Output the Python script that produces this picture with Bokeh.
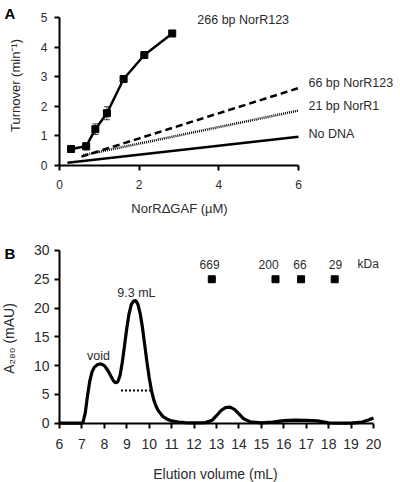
import math
from bokeh.plotting import figure
from bokeh.layouts import column
from bokeh.models import FixedTicker, Whisker, ColumnDataSource, TeeHead
from bokeh.core.properties import value
from bokeh.embed import file_html
from bokeh.resources import INLINE

FONT = "Liberation Sans"
TXT = "#2b2b2b"

# ---------------- Panel A data ----------------
conc_266 = [0.29, 0.67, 0.90, 1.19, 1.61, 2.13, 2.83]
turn_266 = [0.56, 0.65, 1.23, 1.77, 2.93, 3.74, 4.47]
err_266 = [0.0, 0.12, 0.18, 0.22, 0.10, 0.0, 0.0]
conc_66 = [0.55, 6.0]
turn_66 = [0.30, 2.62]
conc_21 = [0.60, 6.0]
turn_21 = [0.35, 1.86]
conc_none = [0.20, 6.0]
turn_none = [0.09, 0.97]
series_labels = ["266 bp NorR123", "66 bp NorR123", "21 bp NorR1", "No DNA"]
label_x = [3.46, 6.25, 6.25, 6.25]
label_y = [4.94, 2.81, 2.0, 1.08]
a_xticks = [0, 2, 4, 6]
a_yticks = [0, 1, 2, 3, 4, 5]

# ---------------- Panel B data ----------------
elution_ml = [6.0, 7.0, 7.05, 7.15, 7.25, 7.35, 7.45, 7.55, 7.7, 7.85, 8.0, 8.15,
              8.3, 8.4, 8.5, 8.6, 8.7, 8.8, 8.9, 9.0, 9.1, 9.2, 9.3, 9.4, 9.5,
              9.6, 9.7, 9.8, 9.9, 10.0, 10.1, 10.2, 10.3, 10.4, 10.6, 10.8, 11.0,
              11.3, 11.6, 12.0, 12.5, 12.8, 13.0, 13.2, 13.4, 13.6, 13.8, 14.0,
              14.2, 14.5, 15.0, 15.5, 16.0, 16.5, 17.0, 17.5, 18.0, 18.5, 19.0,
              19.5, 19.8, 20.0]
a280_mau = [0.0, 0.0, 0.2, 1.8, 4.8, 7.3, 8.9, 9.7, 10.2, 10.3, 10.0, 9.2,
            8.1, 7.4, 7.0, 7.2, 8.3, 10.6, 13.5, 16.5, 19.0, 20.6, 21.2, 21.3, 20.6,
            19.0, 16.6, 13.6, 10.6, 7.9, 5.7, 4.1, 3.0, 2.2, 1.2, 0.7, 0.4,
            0.2, 0.1, 0.05, 0.1, 0.5, 1.3, 2.2, 2.7, 2.8, 2.4, 1.6,
            0.8, 0.25, 0.05, 0.2, 0.45, 0.55, 0.5, 0.4, 0.05, 0.0, 0.0,
            0.2, 0.6, 0.9]
fwhm_x = [8.74, 10.05]
fwhm_y = [5.7, 5.7]
std_ml = [12.79, 15.63, 16.77, 18.27]
std_y = [25, 25, 25, 25]
std_kda = ["669", "200", "66", "29"]
std_label_x = [12.69, 15.32, 16.72, 18.3]
b_xticks = list(range(6, 21))
b_yticks = [0, 5, 10, 15, 20, 25, 30]


def style_axes(p, fs_tick, x_loc, y_loc):
    p.outline_line_color = None
    p.xgrid.visible = False
    p.ygrid.visible = False
    p.xaxis.fixed_location = y_loc
    p.yaxis.fixed_location = x_loc
    for ax in (p.xaxis[0], p.yaxis[0]):
        ax.axis_line_width = 2
        ax.axis_line_color = "black"
        ax.major_tick_line_width = 2
        ax.major_tick_line_color = "black"
        ax.major_tick_out = 5
        ax.major_tick_in = 0
        ax.minor_tick_line_color = None
        ax.major_label_text_font = FONT
        ax.major_label_text_font_size = fs_tick
        ax.major_label_text_color = TXT


def add_text(p, x, y, txt, size, align="center", baseline="middle", angle=0.0,
             style="normal", color=TXT):
    p.text(x=x, y=y, text=txt, text_font=value(FONT), text_font_size=size,
           text_color=color, text_align=align, text_baseline=baseline,
           angle=angle, text_font_style=style)


common = dict(output_backend="svg", toolbar_location=None, min_border_left=0,
              min_border_right=0, min_border_top=0, min_border_bottom=0)

# ---------------- Panel A ----------------
pA = figure(width=400, height=230, x_range=(-1.481, 8.561), y_range=(-2.200, 5.586),
            **common)
style_axes(pA, "12px", 0, 0)
pA.xaxis.ticker = FixedTicker(ticks=a_xticks)
pA.yaxis.ticker = FixedTicker(ticks=a_yticks)
pA.xaxis.bounds = (0, 6)
pA.yaxis.bounds = (0, 5)
pA.xaxis.major_label_standoff = 9
pA.yaxis.major_label_standoff = 7

pA.line(conc_none, turn_none, line_color="black", line_width=2.5)
pA.line(conc_21, turn_21, line_color="black", line_width=2.5, line_dash="1 1")
pA.line(conc_66, turn_66, line_color="black", line_width=2.5, line_dash="7 4")
pA.line(conc_266, turn_266, line_color="black", line_width=2.5)

ex, eu, el = [], [], []
for c, t, e in zip(conc_266, turn_266, err_266):
    if e > 0:
        ex.append(c)
        eu.append(t + e)
        el.append(t - e)
wsrc = ColumnDataSource(dict(x=ex, upper=eu, lower=el))
pA.add_layout(Whisker(base="x", upper="upper", lower="lower", source=wsrc,
                      dimension="height", line_color="#444", line_width=1,
                      upper_head=TeeHead(size=6, line_color="#444", line_width=1),
                      lower_head=TeeHead(size=6, line_color="#444", line_width=1)))
pA.scatter(conc_266, turn_266, marker="square", size=7, color="black")

add_text(pA, label_x, label_y, series_labels, "12.5px", align="left")
add_text(pA, [3.013], [-1.456], ["NorRΔGAF (µM)"], "13px")
add_text(pA, [-1.092], [2.708], ["Turnover (min⁻¹)"], "13px", angle=math.pi / 2)
add_text(pA, [-1.381], [5.45], ["A"], "15px", align="left", baseline="top",
         style="bold", color="black")

# ---------------- Panel B ----------------
pB = figure(width=400, height=252, x_range=(3.370, 21.203), y_range=(-10.30, 33.47),
            **common)
style_axes(pB, "14px", 6, 0)
pB.xaxis.ticker = FixedTicker(ticks=b_xticks)
pB.yaxis.ticker = FixedTicker(ticks=b_yticks)
pB.xaxis.bounds = (6, 20)
pB.yaxis.bounds = (0, 30)
pB.xaxis.major_label_standoff = 11
pB.yaxis.major_label_standoff = 5

pB.line(elution_ml, a280_mau, line_color="black", line_width=3.2)
pB.line(fwhm_x, fwhm_y, line_color="black", line_width=2, line_dash="2 2")
pB.scatter(std_ml, std_y, marker="square", size=7, color="black")
add_text(pB, std_label_x, [27.6] * 4, std_kda, "12px")
add_text(pB, [19.76], [27.6], ["kDa"], "12px")
add_text(pB, [7.74, 9.43], [11.6, 22.7], ["void", "9.3 mL"], "12.5px")
add_text(pB, [12.955], [-8.74], ["Elution volume (mL)"], "14px")
add_text(pB, [3.771], [14.71], ["A₂₈₀ (mAU)"], "14px", angle=math.pi / 2)
add_text(pB, [3.548], [30.87], ["B"], "15px", align="left", baseline="top",
         style="bold", color="black")

layout = column(pA, pB, spacing=0)
open("out.html", "w").write(file_html(layout, INLINE))
